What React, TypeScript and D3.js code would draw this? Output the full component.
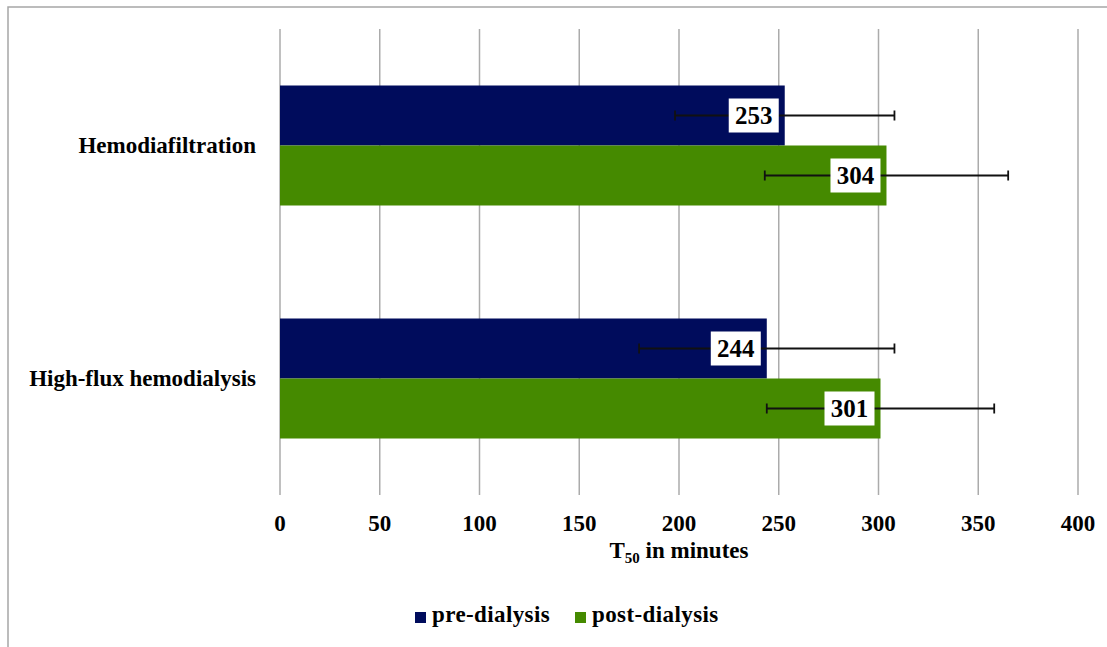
import React from 'react'
import * as d3 from 'd3'

const categories: string[] = ['Hemodiafiltration', 'High-flux hemodialysis']
const series: string[] = ['pre-dialysis', 'post-dialysis']
const preValues: number[] = [253, 244]
const postValues: number[] = [304, 301]
const preErrors: number[] = [55, 64]
const postErrors: number[] = [61, 57]
const xTicks: number[] = [0, 50, 100, 150, 200, 250, 300, 350, 400]
const colors: string[] = ['#000c5c', '#458a00']

const W = 1107
const H = 647
const margin = { top: 29, left: 280, right: 29, bottom: 152 }
const plotBottom = H - margin.bottom
const font = "'Liberation Serif', 'Times New Roman', Times, serif"

export default function App() {
  const x = d3.scaleLinear().domain([0, 400]).range([margin.left, W - margin.right])
  const y = d3.scaleBand<string>().domain(categories).range([margin.top, plotBottom])
  const sub = d3.scaleBand<string>().domain(series).range([0, y.bandwidth()])
    .paddingInner(0).paddingOuter((y.bandwidth() / 2 - 60) / 60)

  const values = [preValues, postValues]
  const errors = [preErrors, postErrors]

  const bars = categories.flatMap((c, i) => series.map((s, j) => ({
    cat: c, s, j, v: values[j][i], e: errors[j][i],
    y0: (y(c) as number) + (sub(s) as number),
  })))

  const tx = { fontFamily: font, fontWeight: 'bold' as const }

  return (
    <svg width={W} height={H} style={{ position: 'absolute', left: 0, top: 0, background: '#fff' }}>
      <rect x={8} y={7} width={W + 20} height={H + 20} fill="#fff" stroke="#a6a6a6" strokeWidth={1.5} />
      {xTicks.map(t => (
        <g key={t}>
          <line x1={x(t)} x2={x(t)} y1={margin.top} y2={plotBottom} stroke="#ababab" strokeWidth={1.5} />
          <text x={x(t)} y={531} textAnchor="middle" fontSize={23} style={tx}>{t}</text>
        </g>
      ))}
      {bars.map(b => (
        <rect key={b.cat + b.s} x={x(0)} y={b.y0} width={x(b.v) - x(0)} height={sub.bandwidth()}
          fill={colors[b.j]} />
      ))}
      {bars.map(b => {
        const cy = b.y0 + sub.bandwidth() / 2
        return (
          <g key={'e' + b.cat + b.s} stroke="#111" strokeWidth={1.8}>
            <line x1={x(b.v - b.e)} x2={x(b.v + b.e)} y1={cy} y2={cy} />
            <line x1={x(b.v - b.e)} x2={x(b.v - b.e)} y1={cy - 5} y2={cy + 5} />
            <line x1={x(b.v + b.e)} x2={x(b.v + b.e)} y1={cy - 5} y2={cy + 5} />
          </g>
        )
      })}
      {bars.map(b => {
        const cy = b.y0 + sub.bandwidth() / 2
        const right = x(b.v) - 6
        return (
          <g key={'l' + b.cat + b.s}>
            <rect x={right - 50} y={cy - 17} width={50} height={34} fill="#fff" />
            <text x={right - 25} y={cy + 8} textAnchor="middle" fontSize={25} style={tx}>{b.v}</text>
          </g>
        )
      })}
      {categories.map(c => (
        <text key={c} x={256} y={(y(c) as number) + y.bandwidth() / 2 + 7} textAnchor="end"
          fontSize={23} style={tx}>{c}</text>
      ))}
      <text x={(x(0) + x(400)) / 2} y={558} textAnchor="middle" fontSize={23} style={tx}>
        T<tspan fontSize={15} dy={5}>50</tspan><tspan dy={-5}> in  minutes</tspan>
      </text>
      {series.map((s, j) => {
        const lx = [415, 575][j]
        return (
          <g key={s}>
            <rect x={lx} y={612} width={11} height={11} fill={colors[j]} />
            <text x={lx + 17} y={622} fontSize={23} letterSpacing={0.4} style={tx}>{s}</text>
          </g>
        )
      })}
    </svg>
  )
}
